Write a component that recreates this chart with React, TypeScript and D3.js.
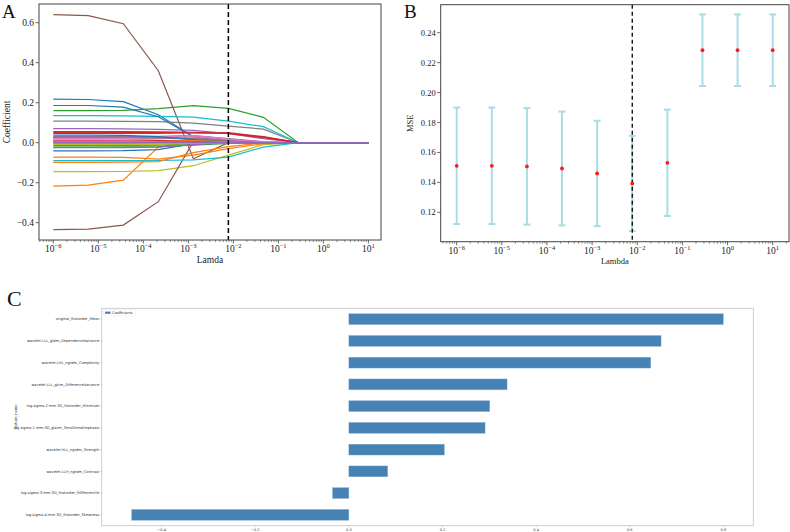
import React from 'react';
import * as d3 from 'd3';

// regularisation strengths (log-spaced, 1e-6 .. 10)
const lambdas = [1e-6, 5.995e-6, 3.594e-5, 2.154e-4, 1.292e-3, 7.743e-3, 4.642e-2, 0.2783, 1.668, 10];
const bestLambda = 7.743e-3;

// lasso coefficient paths, one row per feature
const coefPaths = [
  [0.218, 0.216, 0.205, 0.14, 0.03, 0.008, 0, 0, 0, 0],
  [-0.217, -0.212, -0.187, -0.022, 0.004, 0.002, 0, 0, 0, 0],
  [0.16, 0.16, 0.162, 0.17, 0.185, 0.172, 0.127, 0, 0, 0],
  [0.056, 0.056, 0.055, 0.054, 0.052, 0.05, 0.03, 0, 0, 0],
  [0.07, 0.07, 0.069, 0.067, 0.062, 0.045, 0.02, 0, 0, 0],
  [0.64, 0.635, 0.595, 0.36, -0.08, 0.0, 0, 0, 0, 0],
  [0.018, 0.018, 0.018, 0.02, 0.025, 0.01, 0, 0, 0, 0],
  [0.108, 0.108, 0.107, 0.105, 0.098, 0.083, 0.068, 0, 0, 0],
  [-0.145, -0.145, -0.144, -0.14, -0.115, -0.062, -0.01, 0, 0, 0],
  [0.135, 0.135, 0.134, 0.132, 0.128, 0.108, 0.08, 0, 0, 0],
  [0.186, 0.186, 0.178, 0.13, 0.03, 0.01, 0, 0, 0, 0],
  [-0.072, -0.072, -0.073, -0.082, -0.062, -0.03, -0.005, 0, 0, 0],
  [-0.015, -0.015, -0.014, -0.012, -0.005, 0, 0, 0, 0, 0],
  [0.046, 0.046, 0.046, 0.047, 0.05, 0.047, 0.028, 0, 0, 0],
  [0.03, 0.03, 0.03, 0.032, 0.035, 0.02, 0.005, 0, 0, 0],
  [-0.435, -0.432, -0.412, -0.295, 0.005, 0, 0, 0, 0, 0],
  [0.012, 0.012, 0.013, 0.02, 0.03, 0.015, 0, 0, 0, 0],
  [0.025, 0.025, 0.025, 0.024, 0.02, 0.01, 0, 0, 0, 0],
  [-0.005, -0.005, -0.005, -0.004, -0.002, 0, 0, 0, 0, 0],
  [-0.09, -0.09, -0.09, -0.089, -0.086, -0.072, -0.022, 0, 0, 0],
  [-0.041, -0.041, -0.04, -0.035, -0.005, 0, 0, 0, 0, 0],
  [-0.098, -0.098, -0.097, -0.095, -0.05, -0.02, 0, 0, 0, 0],
  [-0.022, -0.022, -0.021, -0.02, -0.012, -0.004, 0, 0, 0, 0],
  [0.008, 0.008, 0.008, 0.01, 0.012, 0.005, 0, 0, 0, 0],
  [-0.025, -0.025, -0.025, -0.022, -0.01, 0, 0, 0, 0, 0],
  [0.002, 0.002, 0.002, 0.003, 0.002, 0, 0, 0, 0, 0],
  [0.022, 0.022, 0.023, 0.028, 0.035, 0.018, 0.004, 0, 0, 0],
  [0.028, 0.028, 0.028, 0.026, 0.018, 0.006, 0, 0, 0, 0],
  [-0.01, -0.01, -0.01, -0.008, -0.003, 0, 0, 0, 0, 0],
  [0.004, 0.004, 0.004, 0.004, 0.003, 0, 0, 0, 0, 0],
  [0.038, 0.038, 0.037, 0.03, 0.015, 0.004, 0, 0, 0, 0],
  [0.004, 0.004, 0.004, 0.006, 0.01, 0.005, 0, 0, 0, 0],
  [0.0, 0.0, 0.0, 0.002, 0.004, 0.002, 0, 0, 0, 0],
  [0.052, 0.052, 0.052, 0.051, 0.05, 0.046, 0.025, 0, 0, 0],
  [0, 0, 0, 0, 0, 0, 0, 0, 0, 0],
];

// cross-validated MSE per lambda
const mseMean = [0.1511, 0.1511, 0.1507, 0.1493, 0.146, 0.1393, 0.1531, 0.2283, 0.2283, 0.2283];
const mseStd = [0.0389, 0.0389, 0.0389, 0.038, 0.0352, 0.0318, 0.0355, 0.0239, 0.0239, 0.0239];

// selected features and their coefficients
const featureNames = [
  'original_firstorder_Mean',
  'wavelet-LLL_gldm_DependenceVariance',
  'wavelet-LHL_ngtdm_Complexity',
  'wavelet-LLL_glcm_DifferenceVariance',
  'log-sigma-2-mm-3D_firstorder_Minimum',
  'log-sigma-1-mm-3D_glszm_SmallAreaEmphasis',
  'wavelet-HLL_ngtdm_Strength',
  'wavelet-LLH_ngtdm_Contrast',
  'log-sigma-3-mm-3D_firstorder_90Percentile',
  'log-sigma-4-mm-3D_firstorder_Skewness',
];
const featureCoefs = [0.8, 0.667, 0.645, 0.338, 0.301, 0.291, 0.204, 0.083, -0.035, -0.464];

const tab10 = ['#1f77b4', '#ff7f0e', '#2ca02c', '#d62728', '#9467bd', '#8c564b', '#e377c2', '#7f7f7f', '#bcbd22', '#17becf'];
const serif = '"Liberation Serif", "Times New Roman", serif';
const sans = '"DejaVu Sans", sans-serif';
const axisColor = '#444';

const fmt = (v: number) => (v < 0 ? '\u2212' : '') + Math.abs(v).toFixed(1);

// log x-axis with 10^n labels and minor ticks
function LogAxis({ x, y0 }: { x: d3.ScaleLogarithmic<number, number>; y0: number }) {
  const [lo, hi] = x.domain();
  const majors = d3.range(-6, 2);
  const minors: number[] = [];
  for (let e = -7; e <= 1; e++) {
    for (let m = 2; m <= 9; m++) {
      const v = m * 10 ** e;
      if (v > lo && v < hi) minors.push(v);
    }
  }
  return (
    <g>
      {minors.map((v, i) => (
        <line key={'m' + i} x1={x(v)} x2={x(v)} y1={y0} y2={y0 + 2} stroke={axisColor} strokeWidth={0.6} />
      ))}
      {majors.map(e => (
        <g key={e}>
          <line x1={x(10 ** e)} x2={x(10 ** e)} y1={y0} y2={y0 + 3.5} stroke={axisColor} strokeWidth={0.8} />
          <text x={x(10 ** e)} y={y0 + 11.8} textAnchor="middle" fontSize={9.5} fontFamily={serif} fill="#222">
            <tspan>10</tspan>
            <tspan dy={-4} fontSize={6.5}>{e < 0 ? '\u2212' + Math.abs(e) : String(e)}</tspan>
          </text>
        </g>
      ))}
    </g>
  );
}

function PanelA() {
  const left = 39, right = 381, top = 4, bottom = 240;
  const x = d3.scaleLog().domain([10 ** -6.318, 10 ** 1.28]).range([left, right]);
  const y = d3.scaleLinear().domain([-0.4865, 0.6935]).range([bottom, top]);
  const line = d3.line<number>().x((_, i) => x(lambdas[i])).y(d => y(d));
  const yTicks = [-0.4, -0.2, 0, 0.2, 0.4, 0.6];
  return (
    <g>
      {coefPaths.map((p, i) => (
        <path key={i} d={line(p) || ''} fill="none" stroke={tab10[i % 10]} strokeWidth={1.2} />
      ))}
      <line x1={x(bestLambda)} x2={x(bestLambda)} y1={top} y2={bottom} stroke="#000" strokeWidth={1.5} strokeDasharray="5,3" />
      <rect x={left} y={top} width={right - left} height={bottom - top} fill="none" stroke={axisColor} strokeWidth={1} />
      {yTicks.map(t => (
        <g key={t}>
          <line x1={left - 3.5} x2={left} y1={y(t)} y2={y(t)} stroke={axisColor} strokeWidth={0.8} />
          <text x={left - 5} y={y(t) + 3.2} textAnchor="end" fontSize={9.5} fontFamily={serif} fill="#222">{fmt(t)}</text>
        </g>
      ))}
      <LogAxis x={x} y0={bottom} />
      <text x={(left + right) / 2} y={263} textAnchor="middle" fontSize={9.5} fontFamily={serif} fill="#222">Lamda</text>
      <text transform={`translate(10,${(top + bottom) / 2}) rotate(-90)`} textAnchor="middle" fontSize={9.5} fontFamily={serif} fill="#222">Coefficient</text>
      <text x={2} y={18} fontSize={19} fontFamily={serif} fill="#111">A</text>
    </g>
  );
}

function PanelB() {
  const left = 440.7, right = 789, top = 4.7, bottom = 241.7;
  const x = d3.scaleLog().domain([10 ** -6.354, 10 ** 1.361]).range([left, right]);
  const y = d3.scaleLinear().domain([0.1004, 0.2587]).range([bottom, top]);
  const yTicks = [0.12, 0.14, 0.16, 0.18, 0.2, 0.22, 0.24];
  return (
    <g>
      {lambdas.map((l, i) => {
        const cx = x(l);
        const hi = y(mseMean[i] + mseStd[i]);
        const lo = y(mseMean[i] - mseStd[i]);
        return (
          <g key={i} stroke="#a9dce6" strokeWidth={2}>
            <line x1={cx} x2={cx} y1={hi} y2={lo} />
            <line x1={cx - 3.5} x2={cx + 3.5} y1={hi} y2={hi} />
            <line x1={cx - 3.5} x2={cx + 3.5} y1={lo} y2={lo} />
          </g>
        );
      })}
      <line x1={x(bestLambda)} x2={x(bestLambda)} y1={top} y2={bottom} stroke="#000" strokeWidth={1.3} strokeDasharray="4,3" />
      {lambdas.map((l, i) => (
        <circle key={i} cx={x(l)} cy={y(mseMean[i])} r={1.9} fill="#ff1a1a" />
      ))}
      <rect x={left} y={top} width={right - left} height={bottom - top} fill="none" stroke={axisColor} strokeWidth={1} />
      {yTicks.map(t => (
        <g key={t}>
          <line x1={left - 3.5} x2={left} y1={y(t)} y2={y(t)} stroke={axisColor} strokeWidth={0.8} />
          <text x={left - 5} y={y(t) + 3} textAnchor="end" fontSize={8.5} fontFamily={serif} fill="#222">{t.toFixed(2)}</text>
        </g>
      ))}
      <LogAxis x={x} y0={bottom} />
      <text x={(left + right) / 2} y={264} textAnchor="middle" fontSize={8.5} fontFamily={serif} fill="#222">Lambda</text>
      <text transform={`translate(413,${(top + bottom) / 2}) rotate(-90)`} textAnchor="middle" fontSize={8.5} fontFamily={serif} fill="#222">MSE</text>
      <text x={404} y={18} fontSize={19} fontFamily={serif} fill="#111">B</text>
    </g>
  );
}

function PanelC() {
  const left = 101.7, right = 753.3, top = 308.3, bottom = 525.7;
  const x = d3.scaleLinear().domain([-0.528, 0.864]).range([left, right]);
  const y = d3.scaleBand<string>().domain(featureNames).range([top, bottom]).paddingInner(0.5).paddingOuter(0.25);
  const xTicks = [-0.4, -0.2, 0, 0.2, 0.4, 0.6, 0.8];
  return (
    <g>
      {featureNames.map((f, i) => {
        const v = featureCoefs[i];
        return (
          <rect key={f} x={x(Math.min(0, v))} y={y(f)} width={Math.abs(x(v) - x(0))} height={y.bandwidth()}
            fill="#4682b4" stroke="#8db4d6" strokeWidth={0.4} />
        );
      })}
      <rect x={left} y={top} width={right - left} height={bottom - top} fill="none" stroke="#c4c4c4" strokeWidth={0.8} />
      {featureNames.map(f => {
        const cy = (y(f) || 0) + y.bandwidth() / 2;
        return (
          <g key={f}>
            <line x1={left - 1.5} x2={left} y1={cy} y2={cy} stroke="#999" strokeWidth={0.4} />
            <text x={left - 2.5} y={cy + 1.3} textAnchor="end" fontSize={3.6} fontFamily={sans} fill="#333">{f}</text>
          </g>
        );
      })}
      {xTicks.map(t => (
        <g key={t}>
          <line x1={x(t)} x2={x(t)} y1={bottom} y2={bottom + 1.5} stroke="#999" strokeWidth={0.4} />
          <text x={x(t)} y={bottom + 5} textAnchor="middle" fontSize={3.5} fontFamily={sans} fill="#333">{fmt(t)}</text>
        </g>
      ))}
      <text transform={`translate(16.5,${(top + bottom) / 2}) rotate(-90)`} textAnchor="middle" fontSize={3.6} fontFamily={sans} fill="#333">feature_name</text>
      <rect x={103.5} y={309.5} width={32} height={6.5} fill="#fff" stroke="#ddd" strokeWidth={0.4} rx={0.8} />
      <rect x={105} y={311.6} width={5.5} height={2.2} fill="#4682b4" />
      <text x={112} y={314} fontSize={3.5} fontFamily={sans} fill="#333">Coefficients</text>
      <text x={7} y={306} fontSize={22} fontFamily={serif} fill="#111">C</text>
    </g>
  );
}

export default function App() {
  return (
    <svg width={790} height={532} viewBox="0 0 790 532"
      style={{ position: 'absolute', left: 0, top: 0, background: '#fff', display: 'block' }}>
      <rect width={790} height={532} fill="#fff" />
      <PanelA />
      <PanelB />
      <PanelC />
    </svg>
  );
}
